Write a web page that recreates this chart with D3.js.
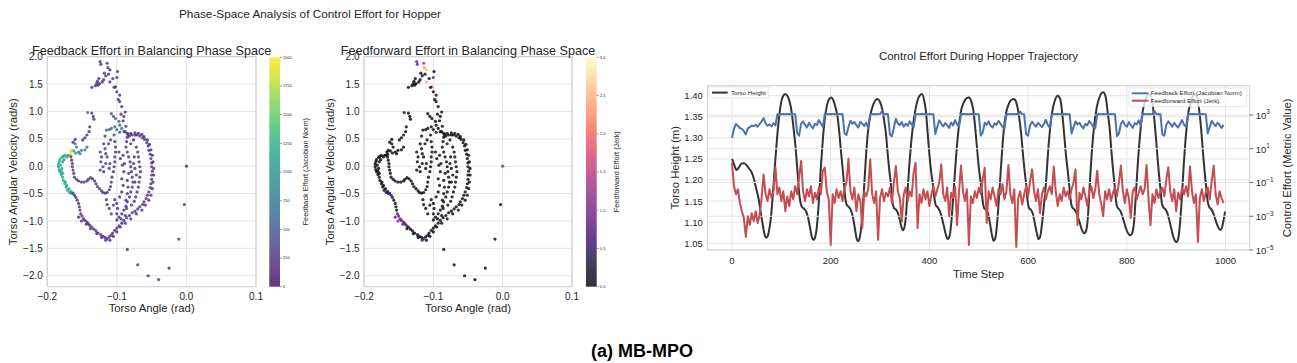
<!DOCTYPE html>
<html><head><meta charset="utf-8">
<script src="https://cdn.jsdelivr.net/npm/d3@7/dist/d3.min.js"></script>
<style>body{margin:0;background:#fff}</style>
</head><body>
<script>
// ---------------- DATA ----------------
// Phase-space points: [torso angle (rad), angular velocity (rad/s), feedback effort, feedforward effort]
const spikePts = [[-0.124,1.91,240,1.0],[-0.123,1.86,230,0.9],[-0.114,1.88,250,1.3],[-0.113,1.80,240,2.3],[-0.110,1.76,260,2.6],[-0.116,1.65,220,0.15],[-0.112,1.68,230,0.1],[-0.099,1.73,250,0.1],[-0.128,1.55,210,0.1],[-0.125,1.51,220,0.05],[-0.121,1.54,230,0.05],[-0.119,1.58,240,0.1],[-0.110,1.54,250,2.5],[-0.100,1.62,260,0.9],[-0.102,1.45,250,2.0],[-0.104,1.44,240,0.1],[-0.100,1.36,250,0.05],[-0.098,1.22,260,0.05],[-0.096,1.18,240,0.05],[-0.093,1.09,250,0.05],[-0.088,0.99,260,0.05],[-0.090,0.91,250,0.05],[-0.091,0.83,240,0.05],[-0.087,0.73,250,0.05],[-0.136,1.44,230,0.05],[-0.131,1.47,220,0.1],[-0.127,1.48,240,0.05],[-0.142,0.98,750,0.3],[-0.136,0.97,250,0.05],[-0.134,0.91,250,0.05],[-0.133,0.86,240,0.05],[-0.139,0.72,230,0.05],[-0.140,0.63,240,0.05],[-0.143,0.57,220,0.05],[-0.146,0.52,230,0.05],[-0.149,0.48,250,0.05],[-0.106,1.60,230,0.05],[-0.096,1.30,240,0.05],[-0.094,0.95,250,0.05],[-0.118,1.70,250,0.1],[-0.129,1.51,230,0.05],[-0.126,1.60,240,0.05]];
const bluePts = [[-0.108,0.96,550,0.05],[-0.105,0.91,600,0.05],[-0.102,0.87,650,0.05],[-0.097,0.82,700,0.05],[-0.096,0.75,650,0.05],[-0.103,0.72,600,0.05],[-0.108,0.69,600,0.05],[-0.111,0.67,550,0.05],[-0.115,0.66,500,0.05],[-0.100,0.67,700,0.05],[-0.093,0.69,650,0.05],[-0.090,0.63,450,0.05],[-0.096,0.62,500,0.05],[-0.104,0.57,350,0.05],[-0.117,0.55,300,0.05]];
const upperLeftPts = [[-0.160,0.41,900,0.05],[-0.158,0.35,850,0.05],[-0.162,0.28,1000,0.05],[-0.155,0.26,800,0.05],[-0.151,0.29,750,0.05],[-0.146,0.30,700,0.05],[-0.143,0.35,650,0.05],[-0.153,0.23,800,0.05],[-0.159,0.24,950,0.05],[-0.163,0.44,250,0.05],[-0.160,0.49,300,0.05],[-0.167,0.26,2000,0.05],[-0.166,0.22,1950,0.05],[-0.168,0.20,1900,0.05],[-0.165,0.29,1800,0.05]];
const tealPts = [[-0.175,0.20,1150,0.05],[-0.177,0.18,1200,0.05],[-0.179,0.16,1200,0.05],[-0.182,0.12,1150,0.05],[-0.183,0.08,1200,0.05],[-0.184,0.04,1150,0.05],[-0.184,-0.01,1200,0.05],[-0.183,-0.06,1150,0.05],[-0.182,-0.10,1200,0.05],[-0.180,-0.15,1150,0.05],[-0.178,-0.20,1200,0.05],[-0.177,-0.26,1150,0.05],[-0.175,-0.32,1200,0.05],[-0.173,-0.38,1150,0.1],[-0.171,-0.44,1200,0.2],[-0.168,-0.48,1150,0.3],[-0.165,-0.50,1100,0.4],[-0.181,0.02,1250,0.05],[-0.179,-0.04,1200,0.05],[-0.178,0.08,1150,0.05],[-0.176,0.12,1100,0.05],[-0.172,0.17,1100,0.05],[-0.170,0.20,1050,0.05],[-0.180,-0.09,1250,0.05],[-0.178,-0.13,1150,0.05],[-0.174,-0.29,1100,0.05],[-0.172,-0.35,1150,0.05],[-0.169,-0.41,1100,0.1],[-0.166,-0.46,1050,0.3]];
const outerLoopPts = [[-0.163,-0.49,250,0.5],[-0.161,-0.53,230,0.5],[-0.159,-0.57,260,0.4],[-0.157,-0.62,240,0.05],[-0.155,-0.68,250,0.05],[-0.154,-0.74,230,0.05],[-0.153,-0.80,260,0.05],[-0.152,-0.87,240,0.7],[-0.150,-0.91,250,0.8],[-0.148,-0.96,230,0.9],[-0.146,-0.99,260,0.85],[-0.143,-1.02,240,0.9],[-0.141,-1.05,250,0.7],[-0.139,-1.08,230,0.6],[-0.136,-1.11,260,0.05],[-0.133,-1.15,240,0.05],[-0.130,-1.18,250,0.05],[-0.127,-1.22,230,0.05],[-0.123,-1.25,260,0.05],[-0.120,-1.28,240,0.05],[-0.117,-1.30,250,0.05],[-0.114,-1.32,230,0.3],[-0.111,-1.29,260,0.05],[-0.108,-1.26,240,0.05],[-0.106,-1.22,250,0.05],[-0.103,-1.17,230,0.05],[-0.100,-1.13,260,0.05],[-0.097,-1.09,240,0.05],[-0.093,-1.04,250,0.05],[-0.090,-0.99,230,0.05],[-0.086,-0.94,260,0.05],[-0.082,-0.90,240,0.05],[-0.078,-0.85,250,0.05],[-0.074,-0.82,230,0.05],[-0.070,-0.78,260,0.05],[-0.067,-0.74,240,0.05],[-0.063,-0.70,250,0.05],[-0.061,-0.65,230,0.05],[-0.058,-0.59,260,0.05],[-0.056,-0.53,240,0.05],[-0.054,-0.47,250,0.05],[-0.052,-0.39,230,0.05],[-0.051,-0.32,260,0.05],[-0.050,-0.24,240,0.05],[-0.050,-0.16,250,0.05],[-0.049,-0.09,230,0.05],[-0.050,-0.01,260,0.05],[-0.050,0.06,240,0.05],[-0.051,0.14,250,0.05],[-0.052,0.22,230,0.05],[-0.054,0.29,260,0.05],[-0.055,0.37,240,0.05],[-0.057,0.43,250,0.05],[-0.060,0.49,230,0.05],[-0.063,0.52,260,0.05],[-0.067,0.55,240,0.05],[-0.071,0.57,250,0.05],[-0.074,0.57,230,0.05],[-0.078,0.57,260,0.05],[-0.082,0.55,240,0.05],[-0.085,0.53,250,0.05]];
const outerInnerPts = [[-0.155,-0.93,220,0.8],[-0.151,-1.00,240,0.9],[-0.144,-1.06,220,0.8],[-0.138,-1.14,240,0.05],[-0.129,-1.23,220,0.05],[-0.122,-1.30,240,0.05],[-0.116,-1.35,220,0.6],[-0.110,-1.35,240,0.05],[-0.105,-1.28,220,0.05],[-0.100,-1.20,240,0.05],[-0.095,-1.11,220,0.05],[-0.088,-1.04,240,0.05],[-0.080,-0.96,220,0.05],[-0.072,-0.87,240,0.05],[-0.064,-0.80,220,0.05],[-0.059,-0.71,240,0.05],[-0.054,-0.62,220,0.05],[-0.051,-0.53,240,0.05],[-0.049,-0.41,220,0.05],[-0.048,-0.29,240,0.05],[-0.047,-0.16,220,0.05],[-0.047,-0.04,240,0.05],[-0.048,0.08,220,0.05],[-0.049,0.20,240,0.05],[-0.051,0.30,220,0.05],[-0.053,0.40,240,0.05],[-0.056,0.48,220,0.05],[-0.061,0.54,240,0.05],[-0.064,0.58,220,0.05],[-0.069,0.60,240,0.05],[-0.074,0.61,220,0.05],[-0.080,0.60,240,0.05],[-0.084,0.58,220,0.05]];
const innerLoopPts = [[-0.086,0.45,230,0.05],[-0.087,0.35,250,0.05],[-0.085,0.26,220,0.05],[-0.083,0.17,260,0.05],[-0.081,0.08,240,0.05],[-0.080,-0.01,230,0.05],[-0.079,-0.10,250,0.05],[-0.078,-0.20,220,0.05],[-0.077,-0.29,260,0.05],[-0.078,-0.38,240,0.05],[-0.080,-0.47,230,0.05],[-0.082,-0.56,250,0.05],[-0.085,-0.65,220,0.05],[-0.087,-0.73,260,0.05],[-0.090,-0.80,240,0.05],[-0.093,-0.87,230,0.05],[-0.097,-0.93,250,0.05],[-0.100,-0.98,220,0.05],[-0.072,0.35,240,0.05],[-0.070,0.26,230,0.05],[-0.069,0.17,250,0.05],[-0.068,0.08,220,0.05],[-0.067,-0.01,260,0.05],[-0.066,-0.10,240,0.05],[-0.067,-0.20,230,0.05],[-0.068,-0.29,250,0.05],[-0.069,-0.38,220,0.05],[-0.071,-0.47,260,0.05],[-0.073,-0.56,240,0.05],[-0.075,-0.64,230,0.05],[-0.079,-0.71,250,0.05],[-0.076,0.48,220,0.05],[-0.080,0.41,260,0.05],[-0.075,0.17,240,0.05],[-0.076,0.05,230,0.05],[-0.074,-0.04,250,0.05],[-0.072,-0.16,220,0.05],[-0.083,-0.13,260,0.05],[-0.085,-0.26,240,0.05],[-0.074,-0.29,230,0.05],[-0.084,-0.38,250,0.05],[-0.088,0.63,300,0.05],[-0.085,0.60,280,0.05]];
const innerCurvePts = [[-0.166,0.17,260,0.05],[-0.165,0.11,250,0.05],[-0.164,0.05,240,0.05],[-0.164,-0.01,250,0.05],[-0.163,-0.07,260,0.05],[-0.162,-0.13,240,0.05],[-0.161,-0.20,250,0.05],[-0.158,-0.24,260,0.05],[-0.155,-0.27,240,0.05],[-0.151,-0.29,250,0.05],[-0.147,-0.29,260,0.05],[-0.143,-0.27,240,0.05],[-0.141,-0.24,250,0.05],[-0.138,-0.21,260,0.05],[-0.135,-0.23,240,0.05],[-0.132,-0.27,250,0.05],[-0.130,-0.32,260,0.05],[-0.128,-0.37,240,0.05],[-0.125,-0.41,250,0.05],[-0.122,-0.45,260,0.05],[-0.120,-0.48,240,0.05],[-0.117,-0.49,250,0.05],[-0.114,-0.48,260,0.05],[-0.111,-0.43,240,0.05],[-0.109,-0.37,250,0.05],[-0.108,-0.29,260,0.05],[-0.107,-0.20,240,0.05],[-0.105,-0.10,250,0.05],[-0.104,-0.01,260,0.05],[-0.103,0.08,240,0.05],[-0.103,0.17,250,0.05],[-0.102,0.26,260,0.05],[-0.102,0.35,240,0.05],[-0.103,0.45,250,0.05]];
const middlePts = [[-0.124,0.26,300,0.05],[-0.122,0.17,280,0.05],[-0.123,0.08,300,0.05],[-0.120,-0.01,320,0.05],[-0.119,-0.10,300,0.05],[-0.116,0.05,280,0.05],[-0.114,0.17,300,0.05],[-0.117,0.32,320,0.05],[-0.112,0.41,350,0.05],[-0.109,0.48,380,0.05],[-0.116,0.23,300,0.05],[-0.124,-0.07,280,0.05],[-0.111,-0.04,300,0.05],[-0.110,0.05,320,0.05],[-0.119,0.41,350,0.05],[-0.115,-0.61,250,0.05],[-0.114,-0.70,240,0.05],[-0.111,-0.77,260,0.05],[-0.108,-0.87,250,0.05],[-0.103,-0.61,240,0.05],[-0.100,-0.68,260,0.05],[-0.096,-0.56,250,0.05],[-0.093,-0.47,240,0.05],[-0.091,-0.35,260,0.05],[-0.093,-0.23,250,0.05],[-0.090,-0.10,240,0.05],[-0.092,0.02,260,0.05],[-0.095,0.14,250,0.05],[-0.097,0.26,240,0.05],[-0.091,0.20,260,0.05],[-0.089,0.05,250,0.05],[-0.099,-0.77,240,0.05],[-0.105,-0.71,260,0.05],[-0.094,-0.96,250,0.05],[-0.088,-0.90,240,0.05],[-0.100,-0.87,260,0.05],[-0.086,-0.77,250,0.05],[-0.087,-0.62,240,0.05],[-0.085,-0.50,260,0.05]];
const transientPts = [[0.000,0.00,250,1.2],[-0.003,-0.70,250,0.05],[-0.011,-1.33,250,0.05],[-0.025,-1.86,250,0.05],[-0.040,-2.07,250,0.05],[-0.055,-2.00,250,0.05],[-0.070,-1.80,250,0.05],[-0.085,-1.52,250,0.05]];

const angleTicks = [-0.2,-0.1,0.0,0.1];
const velTicks = [-2.0,-1.5,-1.0,-0.5,0.0,0.5,1.0,1.5,2.0];
const fbTicks = [0,250,500,750,1000,1250,1500,1750,2000];
const ffTicks = [0.0,0.5,1.0,1.5,2.0,2.5,3.0];

// Trajectory: torso height keypoints [time step, height (m)]
const torsoHeight = [[0,1.250],[4,1.238],[9,1.224],[14,1.230],[19,1.239],[24,1.240],[29,1.236],[34,1.228],[38,1.222],[42,1.212],[46,1.195],[50,1.175],[54,1.155],[58,1.125],[62,1.096],[66,1.071],[69,1.063],[72,1.066],[75,1.080],[79,1.112],[83,1.170],[87,1.235],[91,1.295],[95,1.345],[99,1.380],[103,1.398],[108,1.404],[113,1.398],[117,1.385],[121,1.360],[125,1.320],[129,1.275],[133,1.215],[136,1.170],[139,1.145],[142,1.136],[146,1.132],[150,1.126],[154,1.112],[158,1.088],[162,1.064],[165,1.058],[168,1.063],[172,1.090],[176,1.150],[180,1.230],[184,1.295],[188,1.345],[192,1.374],[196,1.390],[201,1.396],[205,1.390],[209,1.375],[214,1.349],[218,1.305],[221,1.265],[224,1.230],[227,1.190],[230,1.153],[233,1.140],[237,1.136],[241,1.128],[245,1.112],[249,1.085],[252,1.064],[255,1.055],[258,1.060],[262,1.090],[265,1.135],[268,1.190],[272,1.265],[276,1.320],[280,1.352],[285,1.375],[290,1.388],[295,1.392],[300,1.385],[305,1.365],[309,1.335],[312,1.309],[316,1.255],[319,1.220],[322,1.190],[325,1.150],[328,1.134],[332,1.130],[336,1.122],[340,1.105],[343,1.090],[346,1.081],[349,1.086],[352,1.110],[355,1.160],[359,1.230],[364,1.300],[369,1.349],[374,1.380],[379,1.398],[385,1.404],[390,1.385],[393,1.362],[396,1.318],[400,1.260],[404,1.215],[407,1.190],[410,1.158],[413,1.140],[417,1.135],[421,1.126],[425,1.112],[429,1.092],[433,1.072],[437,1.060],[440,1.064],[444,1.095],[447,1.140],[450,1.190],[454,1.255],[459,1.320],[464,1.364],[470,1.385],[475,1.394],[480,1.396],[485,1.386],[489,1.365],[494,1.309],[498,1.255],[501,1.220],[505,1.185],[508,1.150],[511,1.133],[515,1.130],[519,1.120],[523,1.095],[527,1.068],[530,1.056],[533,1.060],[537,1.095],[541,1.160],[545,1.230],[550,1.310],[555,1.357],[560,1.378],[565,1.389],[571,1.392],[576,1.384],[581,1.355],[586,1.309],[590,1.255],[593,1.220],[596,1.190],[599,1.150],[602,1.133],[606,1.129],[610,1.118],[614,1.095],[618,1.072],[621,1.060],[624,1.064],[628,1.095],[632,1.140],[636,1.190],[641,1.275],[648,1.357],[654,1.388],[660,1.400],[665,1.392],[669,1.360],[673,1.309],[677,1.255],[680,1.225],[683,1.190],[686,1.155],[689,1.136],[693,1.131],[697,1.124],[701,1.112],[705,1.097],[709,1.082],[714,1.074],[717,1.078],[721,1.110],[724,1.170],[727,1.230],[733,1.320],[739,1.372],[745,1.398],[752,1.408],[757,1.398],[761,1.362],[765,1.325],[769,1.265],[772,1.225],[775,1.190],[778,1.152],[781,1.135],[785,1.130],[789,1.121],[793,1.106],[797,1.090],[801,1.077],[805,1.070],[808,1.069],[811,1.075],[815,1.105],[818,1.160],[822,1.235],[827,1.310],[832,1.362],[838,1.392],[845,1.404],[850,1.395],[854,1.362],[858,1.315],[862,1.255],[865,1.215],[868,1.180],[871,1.145],[874,1.135],[878,1.131],[882,1.122],[886,1.105],[890,1.085],[894,1.066],[898,1.055],[901,1.053],[904,1.060],[908,1.100],[911,1.150],[915,1.230],[920,1.310],[925,1.362],[931,1.392],[938,1.404],[943,1.394],[947,1.362],[951,1.315],[955,1.255],[958,1.215],[961,1.180],[964,1.148],[967,1.136],[971,1.131],[975,1.122],[979,1.108],[983,1.094],[987,1.084],[990,1.082],[993,1.088],[996,1.105],[999,1.125]];

// Efforts sampled every 4 time steps (t = 0, 4, ..., 996)
const effortStep = 4;
const feedbackEffort = [45,150,300,220,170,150,110,70,160,190,240,220,260,200,300,420,650,320,230,280,210,330,240,
1100,1150,1120,1130,1120,1140,1100,1130,1110,1120,
90,60,300,420,260,180,350,220,160,300,250,500,300,200,
1100,1130,1120,1140,1110,1150,1120,1130,1100,1140,
80,65,200,450,300,380,250,180,400,300,220,350,170,
1100,1150,1120,1130,1110,1140,1700,1120,1130,1100,
70,55,180,600,320,250,380,200,300,230,420,280,180,
1100,1130,1120,1140,1110,1150,1120,1130,1100,1120,
75,200,480,300,210,330,250,170,360,240,500,280,200,
1100,1140,1120,1130,1110,1150,1120,1130,1110,1120,
60,90,350,260,420,230,180,320,260,450,300,200,150,
1100,1130,1120,1140,1110,1130,1120,1600,1130,1100,
70,60,250,400,280,200,350,260,190,300,520,250,180,
1100,1130,1120,1140,1110,1150,1120,1130,1110,1120,
80,190,420,280,350,220,160,300,240,450,300,200,160,
1100,1140,1120,1130,1110,1150,1120,1130,1100,1120,
55,80,300,450,260,200,380,250,170,330,280,480,220,
1100,1130,1120,1140,1110,1130,1700,1120,1130,1100,
70,60,260,420,300,200,340,240,180,300,500,260,200,
1100,1140,1120,1130,1110,1150,1120,1130,1110,1120,
80,200,450,300,220,350,250,170,260];
const feedforwardEffort = [1.5,0.06,0.02,0.04,0.006,0.002,0.0008,0.00006,0.001,0.0003,0.0015,0.0005,0.002,0.0004,0.0012,0.012,0.3,0.02,0.008,0.04,0.012,0.03,0.8,
0.02,0.05,0.008,0.03,0.002,0.015,0.004,0.03,0.01,0.06,
0.02,0.2,1.9,0.03,0.008,0.04,0.015,0.06,0.006,0.025,0.01,0.05,0.02,0.5,
0.76,0.03,0.01,0.00002,0.02,0.006,0.04,0.012,0.03,0.008,
0.05,0.1,2.6,0.03,0.01,0.05,0.002,0.02,0.008,0.0002,0.03,0.015,0.04,
2.4,0.02,0.006,0.03,0.00004,0.012,0.04,0.008,0.025,0.015,
0.05,0.006,0.1,0.95,0.03,0.012,0.0005,0.02,0.05,0.008,0.03,0.015,0.4,
1.5,0.0002,0.02,0.006,0.04,0.01,0.03,0.004,0.02,0.06,
0.015,0.04,0.1,1.2,0.02,0.008,0.05,0.001,0.025,0.012,0.06,0.0003,0.03,
1.0,0.03,0.008,0.04,0.00002,0.015,0.006,0.03,0.012,0.05,
0.02,0.15,0.76,0.0004,0.03,0.01,0.05,0.015,0.004,0.04,0.02,0.08,0.01,
0.03,1.1,0.02,0.006,0.04,0.000015,0.012,0.03,0.005,0.02,
0.06,0.015,0.12,0.6,0.03,0.008,0.04,0.0015,0.02,0.05,0.01,0.03,0.06,
0.02,0.9,0.03,0.004,0.02,0.008,0.05,0.015,0.03,0.01,
0.04,0.1,0.6,0.0003,0.025,0.01,0.05,0.015,0.004,0.03,0.06,0.012,0.04,
0.5,0.02,0.006,0.001,0.03,0.01,0.04,0.008,0.025,0.05,
0.015,0.1,1.0,0.03,0.006,0.04,0.012,0.0008,0.03,0.05,0.01,0.025,0.06,
0.02,0.04,1.1,0.01,0.0003,0.02,0.006,0.04,0.012,0.03,
0.05,0.015,0.15,0.8,0.03,0.008,0.04,0.002,0.025,0.01,0.05,0.02,0.06,
0.015,0.9,0.03,0.006,0.02,0.00003,0.012,0.04,0.008,0.025,
0.05,0.01,0.12,1.0,0.02,0.005,0.03,0.012,0.006];

const timeTicks = [0,200,400,600,800,1000];
const heightTicks = [1.05,1.10,1.15,1.20,1.25,1.30,1.35,1.40];
const effortExps = [-5,-3,-1,1,3];

// ---------------- DRAWING ----------------
const FONT = '"Liberation Sans", Arial, Helvetica, sans-serif';
const TXT = '#262626', GRID = '#e3e3e3', SPINE = '#d0d0d0';
const svg = d3.select('body').append('svg').attr('width',1297).attr('height',363)
  .style('font-family',FONT);
svg.append('rect').attr('width',1297).attr('height',363).attr('fill','#fff');

const allPts = [].concat(spikePts,bluePts,upperLeftPts,tealPts,outerLoopPts,outerInnerPts,innerLoopPts,innerCurvePts,middlePts,transientPts);

svg.append('text').attr('x',310).attr('y',18).attr('text-anchor','middle')
  .attr('font-size',11.8).attr('fill',TXT).text('Phase-Space Analysis of Control Effort for Hopper');

function phasePanel(cfg){
  const x = d3.scaleLinear().domain([-0.2,0.1]).range([cfg.x0,cfg.x1]);
  const y = d3.scaleLinear().domain([-2.2,2.0]).range([286.7,56.7]);
  const g = svg.append('g');
  const fmt = d3.format('.1f');
  g.selectAll(null).data(angleTicks).join('line')
    .attr('x1',d=>x(d)).attr('x2',d=>x(d)).attr('y1',y.range()[0]).attr('y2',y.range()[1])
    .attr('stroke',GRID).attr('stroke-width',1);
  g.selectAll(null).data(velTicks).join('line')
    .attr('x1',cfg.x0).attr('x2',cfg.x1).attr('y1',d=>y(d)).attr('y2',d=>y(d))
    .attr('stroke',GRID).attr('stroke-width',1);
  g.append('rect').attr('x',cfg.x0).attr('y',56.7).attr('width',cfg.x1-cfg.x0).attr('height',230)
    .attr('fill','none').attr('stroke',SPINE).attr('stroke-width',1.1);
  g.selectAll(null).data(angleTicks).join('text')
    .attr('x',d=>x(d)).attr('y',299.5).attr('text-anchor','middle').attr('font-size',10).attr('fill',TXT)
    .text(d=>fmt(d));
  g.selectAll(null).data(velTicks).join('text')
    .attr('x',cfg.x0-4.5).attr('y',d=>y(d)+3.6).attr('text-anchor','end').attr('font-size',10).attr('fill',TXT)
    .text(d=>fmt(d));
  g.append('text').attr('x',(cfg.x0+cfg.x1)/2).attr('y',312).attr('text-anchor','middle')
    .attr('font-size',11.3).attr('fill',TXT).text('Torso Angle (rad)');
  g.append('text').attr('transform',`translate(${cfg.ylx},171.7) rotate(-90)`).attr('text-anchor','middle')
    .attr('font-size',11.3).attr('fill',TXT).text('Torso Angular Velocity (rad/s)');
  g.append('text').attr('x',(cfg.x0+cfg.x1)/2).attr('y',54.5).attr('text-anchor','middle')
    .attr('font-size',12.6).attr('fill',TXT).text(cfg.title);
  // points
  g.selectAll(null).data(allPts).join('circle')
    .attr('cx',d=>x(d[0])).attr('cy',d=>y(d[1])).attr('r',1.6)
    .attr('fill',d=>cfg.color(d[cfg.idx])).attr('fill-opacity',0.8);
  // colorbar
  const cb = d3.scaleLinear().domain(cfg.color.domain()).range([286.7,57.3]);
  const gid = 'grad'+cfg.idx;
  const grad = svg.append('defs').append('linearGradient').attr('id',gid)
    .attr('x1',0).attr('x2',0).attr('y1',1).attr('y2',0);
  d3.range(0,1.0001,0.05).forEach(t=>{
    grad.append('stop').attr('offset',t).attr('stop-color',cfg.interp(t));
  });
  g.append('rect').attr('x',cfg.cb0).attr('y',57.3).attr('width',10.7).attr('height',229.4)
    .attr('fill',`url(#${gid})`).attr('fill-opacity',0.8);
  g.selectAll(null).data(cfg.cbTicks).join('line')
    .attr('x1',cfg.cb0+10.7).attr('x2',cfg.cb0+12.7).attr('y1',d=>cb(d)).attr('y2',d=>cb(d))
    .attr('stroke','#555').attr('stroke-width',0.6);
  g.selectAll(null).data(cfg.cbTicks).join('text')
    .attr('x',cfg.cb0+13.8).attr('y',d=>cb(d)+1.4).attr('font-size',4).attr('fill',TXT)
    .text(d=>cfg.cbFmt(d));
  g.append('text').attr('transform',`translate(${cfg.cblx},171.7) rotate(-90)`).attr('text-anchor','middle')
    .attr('font-size',7.3).attr('fill',TXT).text(cfg.cbLabel);
}

phasePanel({x0:47.3,x1:256,ylx:17,title:'Feedback Effort in Balancing Phase Space',idx:2,
  color:d3.scaleSequential(d3.interpolateViridis).domain([0,2000]),interp:d3.interpolateViridis,
  cb0:269.3,cbTicks:fbTicks,cbFmt:d3.format('d'),cblx:307.5,cbLabel:'Feedback Effort (Jacobian Norm)'});
phasePanel({x0:364,x1:572,ylx:334,title:'Feedforward Effort in Balancing Phase Space',idx:3,
  color:d3.scaleSequential(d3.interpolateMagma).domain([0,3]),interp:d3.interpolateMagma,
  cb0:586,cbTicks:ffTicks,cbFmt:d3.format('.1f'),cblx:619,cbLabel:'Feedforward Effort (Jerk)'});

// ---------- right panel ----------
const R = {x0:707.35,x1:1249.7,y0:85.7,y1:250};
const rx = d3.scaleLinear().domain([-49.95,1048.95]).range([R.x0,R.x1]);
const ryL = d3.scaleLinear().domain([1.0341,1.4237]).range([R.y1,R.y0]);
const ryR = d3.scaleLog().domain([1e-5,Math.pow(10,4.736)]).range([R.y1,R.y0]);
const rg = svg.append('g');
rg.append('text').attr('x',(R.x0+R.x1)/2).attr('y',60).attr('text-anchor','middle')
  .attr('font-size',11.5).attr('fill',TXT).text('Control Effort During Hopper Trajectory');
rg.selectAll(null).data(timeTicks).join('line')
  .attr('x1',d=>rx(d)).attr('x2',d=>rx(d)).attr('y1',R.y0).attr('y2',R.y1).attr('stroke',GRID);
rg.selectAll(null).data(heightTicks).join('line')
  .attr('x1',R.x0).attr('x2',R.x1).attr('y1',d=>ryL(d)).attr('y2',d=>ryL(d)).attr('stroke',GRID);
// torso height
rg.append('path').datum(torsoHeight)
  .attr('d',d3.line().x(d=>rx(d[0])).y(d=>ryL(d[1])).curve(d3.curveMonotoneX))
  .attr('fill','none').attr('stroke','#333').attr('stroke-width',2);
// legend 1
rg.append('rect').attr('x',709).attr('y',86.7).attr('width',59.7).attr('height',11.3).attr('rx',1.5)
  .attr('fill','#fff').attr('fill-opacity',0.8).attr('stroke','#d6d6d6').attr('stroke-width',0.6);
rg.append('line').attr('x1',712).attr('x2',727.7).attr('y1',92.6).attr('y2',92.6).attr('stroke','#333').attr('stroke-width',2);
rg.append('text').attr('x',731).attr('y',94.8).attr('font-size',6.2).attr('fill',TXT).text('Torso Height');
// right-axis grid
rg.selectAll(null).data(effortExps).join('line')
  .attr('x1',R.x0).attr('x2',R.x1).attr('y1',d=>ryR(Math.pow(10,d))).attr('y2',d=>ryR(Math.pow(10,d))).attr('stroke',GRID);
const effLine = d3.line().x((d,i)=>rx(i*effortStep)).y(d=>ryR(d));
rg.append('path').datum(feedbackEffort).attr('d',effLine)
  .attr('fill','none').attr('stroke','#4c72b0').attr('stroke-width',2).attr('stroke-linejoin','round');
rg.append('path').datum(feedforwardEffort).attr('d',effLine)
  .attr('fill','none').attr('stroke','#c44e52').attr('stroke-width',2).attr('stroke-linejoin','round');
// legend 2
rg.append('rect').attr('x',1129).attr('y',88).attr('width',117.7).attr('height',18.7).attr('rx',1.5)
  .attr('fill','#fff').attr('fill-opacity',0.8).attr('stroke','#d6d6d6').attr('stroke-width',0.6);
rg.append('line').attr('x1',1131.7).attr('x2',1148.3).attr('y1',93.3).attr('y2',93.3).attr('stroke','#4c72b0').attr('stroke-width',2);
rg.append('line').attr('x1',1131.7).attr('x2',1148.3).attr('y1',100.7).attr('y2',100.7).attr('stroke','#c44e52').attr('stroke-width',2);
rg.append('text').attr('x',1150.7).attr('y',95.4).attr('font-size',6.2).attr('fill',TXT).text('Feedback Effort (Jacobian Norm)');
rg.append('text').attr('x',1150.7).attr('y',102.8).attr('font-size',6.2).attr('fill',TXT).text('Feedforward Effort (Jerk)');
// spines
rg.append('rect').attr('x',R.x0).attr('y',R.y0).attr('width',R.x1-R.x0).attr('height',R.y1-R.y0)
  .attr('fill','none').attr('stroke',SPINE).attr('stroke-width',1.1);
// tick labels
rg.selectAll(null).data(timeTicks).join('text')
  .attr('x',d=>rx(d)).attr('y',263.5).attr('text-anchor','middle').attr('font-size',9.5).attr('fill',TXT).text(d=>d);
rg.selectAll(null).data(heightTicks).join('text')
  .attr('x',R.x0-4.5).attr('y',d=>ryL(d)+3.4).attr('text-anchor','end').attr('font-size',9.5).attr('fill',TXT)
  .text(d=>d3.format('.2f')(d));
rg.selectAll(null).data(effortExps).join('line')
  .attr('x1',R.x1).attr('x2',R.x1+3.5).attr('y1',d=>ryR(Math.pow(10,d))).attr('y2',d=>ryR(Math.pow(10,d)))
  .attr('stroke',TXT).attr('stroke-width',0.7);
const et = rg.selectAll(null).data(effortExps).join('text')
  .attr('x',R.x1+6).attr('y',d=>ryR(Math.pow(10,d))+4).attr('font-size',9.5).attr('fill',TXT);
et.append('tspan').text('10');
et.append('tspan').attr('dy',-4.5).attr('font-size',6.5).text(d=>d3.format('d')(d));
rg.append('text').attr('x',(R.x0+R.x1)/2).attr('y',277.5).attr('text-anchor','middle')
  .attr('font-size',11.3).attr('fill',TXT).text('Time Step');
rg.append('text').attr('transform',`translate(679,${(R.y0+R.y1)/2}) rotate(-90)`).attr('text-anchor','middle')
  .attr('font-size',11.3).attr('fill',TXT).text('Torso Height (m)');
rg.append('text').attr('transform',`translate(1291,${(R.y0+R.y1)/2}) rotate(-90)`).attr('text-anchor','middle')
  .attr('font-size',11.3).attr('fill',TXT).text('Control Effort (Metric Value)');

// caption
svg.append('text').attr('x',642).attr('y',357).attr('text-anchor','middle')
  .attr('font-size',18).attr('font-weight','bold').attr('fill','#000').text('(a) MB-MPO');
</script>
</body></html>
